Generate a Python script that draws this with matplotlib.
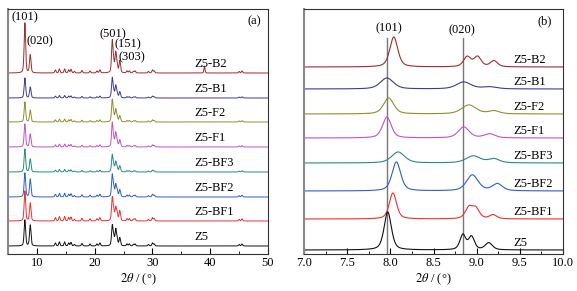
import matplotlib.pyplot as plt
import numpy as np
from matplotlib.ticker import MultipleLocator

plt.rcParams['font.family'] = ['Liberation Serif', 'DejaVu Serif']
plt.rcParams['mathtext.fontset'] = 'stix'

# samples, top to bottom
samples = ['Z5-B2', 'Z5-B1', 'Z5-F2', 'Z5-F1', 'Z5-BF3', 'Z5-BF2', 'Z5-BF1', 'Z5']
colors = ['#9b2d2f', '#3d3d8f', '#8f8f2f', '#c055c0', '#2a8a7c', '#2f5fc8', '#f03030', '#111111']

# ---- panel (a): wide-angle pattern, peak list ----
a_offset = [181, 156, 132, 107, 82, 57, 33, 8]
a_main_pos = [7.92, 8.85, 23.05, 23.65, 24.35]          # (101) (020) (501) (151) (303)
a_h101 = [50, 20, 20, 23, 23, 24, 30, 26]
a_h020 = [18, 11, 12, 13, 13, 18, 18, 21]
a_h501 = [32, 20, 22, 24, 17, 22, 23, 20]
a_h151 = [20, 12, 12, 14, 10, 12, 13, 16]
a_h303 = [12, 6, 6, 7, 6, 7, 10, 8]
a_minor_pos = [13.2, 13.9, 14.8, 15.5, 15.9, 16.5, 17.8, 19.2, 20.4, 20.9, 23.3, 23.9,
               25.6, 26.0, 26.7, 27.0, 29.3, 30.0, 30.3, 45.0, 45.5]
a_minor_h = [3, 4, 4, 3, 3.5, 1.5, 2.5, 2, 2, 3, 8, 6, 2, 2, 1.5, 2, 1.5, 3, 2, 1.5, 2]
a_minor_scale = [1.0, 0.6, 0.7, 0.7, 0.6, 0.9, 1.1, 1.0]
b2_extra_pos = 39.0
b2_extra_h = 7

# ---- panel (b): zoom on 7-10 deg, (pos, height, fwhm) per sample ----
b_offset = [187, 165, 140, 116, 91, 63, 35, 4]
b_pos = [[8.04, 8.89, 9.01, 9.20],
         [7.96, 8.85, 9.15],
         [7.98, 8.91, 9.20],
         [7.96, 8.85, 9.15],
         [8.09, 8.96, 9.20],
         [8.07, 8.95, 9.24],
         [8.03, 8.91, 8.99, 9.19],
         [7.97, 8.84, 8.94, 9.14]]
b_h = [[30, 10, 10, 6],
       [11, 7, 2],
       [16, 9, 3],
       [21, 11, 4],
       [11, 7, 4],
       [29, 16, 7],
       [26, 11, 10, 4],
       [38, 15, 13, 7]]
b_w = [[0.11, 0.10, 0.10, 0.10],
       [0.18, 0.20, 0.20],
       [0.14, 0.20, 0.15],
       [0.12, 0.15, 0.15],
       [0.18, 0.20, 0.15],
       [0.12, 0.16, 0.14],
       [0.10, 0.10, 0.10, 0.10],
       [0.10, 0.08, 0.08, 0.10]]
ref_lines = [7.96, 8.84]


def pv(x, x0, h, w, eta=0.5):
    g = np.exp(-4 * np.log(2) * (x - x0) ** 2 / w ** 2)
    l = 1 / (1 + 4 * (x - x0) ** 2 / w ** 2)
    return h * (eta * l + (1 - eta) * g)


fig = plt.figure(figsize=(5.77, 2.91), dpi=100)
axa = fig.add_axes([8 / 577, 37 / 291, 260 / 577, 245 / 291])
axb = fig.add_axes([304 / 577, 37 / 291, 259 / 577, 245 / 291])

fs = 9
xa = np.arange(5, 50.001, 0.02)
for i, name in enumerate(samples):
    hs = [a_h101[i], a_h020[i], a_h501[i], a_h151[i], a_h303[i]]
    y = np.zeros_like(xa)
    for p, h in zip(a_main_pos, hs):
        y += pv(xa, p, h, 0.3, 0.4)
    for p, h in zip(a_minor_pos, a_minor_h):
        y += pv(xa, p, h * a_minor_scale[i], 0.25, 0.4)
    if name == 'Z5-B2':
        y += pv(xa, b2_extra_pos, b2_extra_h, 0.22, 0.3)
    axa.plot(xa, y + a_offset[i], color=colors[i], lw=0.7)
    axa.text(37.2, a_offset[i] + 9, name, fontsize=fs, ha='left', va='center')

axa.set_xlim(5, 50)
axa.set_ylim(0, 245)
axa.xaxis.set_major_locator(MultipleLocator(10))
axa.xaxis.set_minor_locator(MultipleLocator(5))
axa.set_yticks([])
axa.tick_params(axis='x', which='both', direction='in', labelsize=fs, pad=2)
axa.tick_params(axis='x', which='major', length=4)
axa.tick_params(axis='x', which='minor', length=2.5)
axa.set_xlabel(r'$2\theta$ / (°)', fontsize=fs, labelpad=2)
axa.text(47.7, 233, '(a)', fontsize=fs, ha='center', va='center')
for s, (tx, ty) in zip(['(101)', '(020)', '(501)', '(151)', '(303)'],
                       [(8.0, 237), (10.6, 213), (23.2, 220), (25.8, 210), (26.5, 197)]):
    axa.text(tx, ty, s, fontsize=fs, ha='center', va='center')

xb = np.arange(7, 10.001, 0.002)
for i, name in enumerate(samples):
    y = np.zeros_like(xb)
    for p, h, w in zip(b_pos[i], b_h[i], b_w[i]):
        y += pv(xb, p, h, w)
    axb.plot(xb, y + b_offset[i], color=colors[i], lw=0.8)
    axb.text(9.42, b_offset[i] + 7, name, fontsize=fs, ha='left', va='center')

for xr in ref_lines:
    axb.plot([xr, xr], [0, 216], color='#777777', lw=1.0, zorder=0)
axb.text(7.98, 226, '(101)', fontsize=fs, ha='center', va='center')
axb.text(8.83, 224, '(020)', fontsize=fs, ha='center', va='center')
axb.text(9.79, 233, '(b)', fontsize=fs, ha='center', va='center')

axb.set_xlim(7, 10)
axb.set_ylim(0, 245)
axb.xaxis.set_major_locator(MultipleLocator(0.5))
axb.xaxis.set_minor_locator(MultipleLocator(0.25))
axb.set_yticks([])
axb.tick_params(axis='x', which='both', direction='in', labelsize=fs, pad=2)
axb.tick_params(axis='x', which='major', length=4)
axb.tick_params(axis='x', which='minor', length=2.5)
axb.set_xlabel(r'$2\theta$ / (°)', fontsize=fs, labelpad=2)

for ax in (axa, axb):
    for sp in ax.spines.values():
        sp.set_linewidth(0.8)
        sp.set_color('#333333')
    ax.spines['left'].set_color('#888888')
    ax.spines['left'].set_linewidth(1.5)

fig.savefig('out.png', dpi=100)
